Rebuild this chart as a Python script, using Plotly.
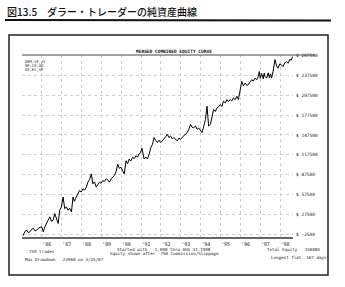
import plotly.graph_objects as go

# ---- data ----
years = [1985.05, 1985.15, 1985.24, 1985.32, 1985.40, 1985.48, 1985.57, 1985.66, 1985.74, 1985.86,
         1985.99, 1986.07, 1986.16, 1986.24, 1986.32, 1986.40, 1986.49, 1986.57, 1986.65, 1986.74,
         1986.82, 1986.90, 1986.98, 1987.07, 1987.15, 1987.24, 1987.32, 1987.40, 1987.49, 1987.57,
         1987.64, 1987.70, 1987.76, 1987.82, 1987.90, 1987.98, 1988.07, 1988.15, 1988.24, 1988.32,
         1988.40, 1988.49, 1988.57, 1988.65, 1988.74, 1988.82, 1988.90, 1988.98, 1989.07, 1989.15,
         1989.24, 1989.32, 1989.40, 1989.52, 1989.65, 1989.74, 1989.82, 1989.90, 1989.99, 1990.07,
         1990.15, 1990.24, 1990.32, 1990.40, 1990.48, 1990.57, 1990.65, 1990.74, 1990.82, 1990.90,
         1990.97, 1991.04, 1991.10, 1991.15, 1991.24, 1991.32, 1991.40, 1991.49, 1991.57, 1991.65,
         1991.74, 1991.82, 1991.90, 1991.99, 1992.07, 1992.15, 1992.24, 1992.32, 1992.40, 1992.49,
         1992.57, 1992.65, 1992.74, 1992.82, 1992.90, 1992.99, 1993.07, 1993.15, 1993.24, 1993.32,
         1993.40, 1993.49, 1993.57, 1993.65, 1993.74, 1993.82, 1993.90, 1993.99, 1994.07, 1994.15,
         1994.24, 1994.32, 1994.40, 1994.49, 1994.57, 1994.65, 1994.74, 1994.82, 1994.90, 1994.99,
         1995.07, 1995.15, 1995.24, 1995.32, 1995.40, 1995.49, 1995.57, 1995.65, 1995.74, 1995.82,
         1995.90, 1995.99, 1996.07, 1996.15, 1996.24, 1996.32, 1996.40, 1996.49, 1996.57, 1996.65,
         1996.74, 1996.82, 1996.90, 1996.95, 1997.00, 1997.07, 1997.15, 1997.20, 1997.24, 1997.32,
         1997.40, 1997.46, 1997.52, 1997.57, 1997.65, 1997.74, 1997.82, 1997.90, 1997.98, 1998.07,
         1998.15, 1998.24, 1998.32, 1998.40, 1998.49, 1998.56, 1998.63]
equity = [-5000, 1500, 3500, -500, 1000, 4500, 6000, 2000, 3500, 7000,
          8500, 1000, 9000, 13500, 19000, 23500, 17000, 18500, 28500, 22000,
          13500, 33500, 38000, 53500, 36000, 38500, 33500, 36500, 31000, 53500,
          47000, 51500, 55000, 58500, 63500, 61000, 66000, 64000, 68500, 76000,
          80000, 88500, 73500, 76500, 68500, 72000, 76000, 74500, 78500, 77000,
          81000, 79500, 76000, 82000, 86000, 92000, 103500, 97000, 98500, 93000,
          88500, 108500, 104000, 111000, 108000, 113500, 111500, 116000, 114000, 118500,
          121000, 127500, 118000, 111000, 114000, 111000, 118000, 128500, 133000, 143500,
          139000, 136000, 139500, 136000, 138500, 141000, 145000, 148500, 143500, 146000,
          141500, 143500, 140000, 138500, 142500, 141000, 144000, 146000, 149000, 151000,
          156000, 163500, 159000, 158500, 161000, 156000, 158000, 153500, 151000, 160000,
          171000, 191000, 161000, 163500, 178000, 186000, 183000, 188500, 190000, 193500,
          190500, 198500, 196000, 201000, 198000, 201000, 199000, 203500, 201000, 206000,
          201000, 218500, 228500, 222000, 226000, 222500, 223500, 228000, 231000, 229000,
          233500, 231000, 236000, 243500, 233000, 240500, 232500, 241000, 236000, 233500,
          241500, 234000, 240000, 233500, 244000, 261500, 252000, 248500, 255000, 253500,
          251000, 257000, 258500, 256000, 262000, 260500, 266000]

year_ticks = list(range(1986, 1999))
year_labels = ["'" + str(y)[2:] for y in year_ticks]
equity_ticks = [-2500, 27500, 57500, 87500, 117500, 147500, 177500, 207500, 237500, 267500]
equity_labels = ["$ " + str(v) for v in equity_ticks]
markets = ["DEM,SF,JY", "BP,CD,AD", "DX,EC,SF"]

# ---- layout geometry ----
W, H = 345, 287
L, R, T, B = 22, 52, 55, 50
PW, PH = W - L - R, H - T - B


def px(x):
    return (x - L) / PW


def py(y):
    return (H - B - y) / PH


MONO = "DejaVu Sans Mono"

fig = go.Figure()
fig.add_trace(go.Scatter(x=years, y=equity, mode="lines",
                         line=dict(color="black", width=1), showlegend=False,
                         hoverinfo="skip"))

fig.update_layout(
    width=W, height=H,
    margin=dict(l=L, r=R, t=T, b=B),
    paper_bgcolor="white", plot_bgcolor="white",
    xaxis=dict(range=[1985, 1998.65], tickvals=year_ticks, ticktext=year_labels,
               showgrid=True, gridcolor="#cfcfcf", gridwidth=0.6, griddash="dot",
               showline=True, linecolor="#666666", linewidth=2, ticks="",
               tickfont=dict(family=MONO, size=5, color="#222"),
               ticklabelshift=5, ticklabelstandoff=1, zeroline=False),
    yaxis=dict(range=[-7000, 268500], side="right", tickvals=equity_ticks,
               ticktext=equity_labels, showgrid=True, gridcolor="#cfcfcf",
               gridwidth=0.6, griddash="dot", showline=False, ticks="",
               tickfont=dict(family=MONO, size=4.5, color="#222"),
               ticklabelstandoff=2, zeroline=False),
)

shapes = []
# title rule
shapes.append(dict(type="line", xref="paper", yref="paper", x0=px(5), x1=px(331),
                   y0=py(20), y1=py(20.5), line=dict(color="#111", width=2.2)))
# outer box
shapes.append(dict(type="rect", xref="paper", yref="paper", x0=px(9), x1=px(328),
                   y0=py(275), y1=py(35), line=dict(color="#222", width=1.5)))
# chart top line
shapes.append(dict(type="line", xref="paper", yref="paper", x0=px(22), x1=px(315),
                   y0=py(55), y1=py(55), line=dict(color="#444", width=1.2)))
fig.update_layout(shapes=shapes)

ann = []
ann.append(dict(text="図13.5　ダラー・トレーダーの純資産曲線", x=px(5), y=py(12),
                xref="paper", yref="paper", xanchor="left", yanchor="middle",
                showarrow=False, font=dict(family="Noto Sans CJK JP", size=10, color="#111",
                                           weight=500)))
ann.append(dict(text="<b>MERGED COMBINED EQUITY CURVE</b>", x=px(174), y=py(51),
                xref="paper", yref="paper", xanchor="center", yanchor="middle",
                showarrow=False, font=dict(family=MONO, size=4.5, color="#111")))
for i, m in enumerate(markets):
    ann.append(dict(text=m, x=px(23), y=py(62 + i * 3.6), xref="paper", yref="paper",
                    xanchor="left", yanchor="middle", showarrow=False,
                    font=dict(family=MONO, size=3.8, color="#222")))


def note(text, x, y, anchor="left"):
    ann.append(dict(text=text, x=px(x), y=py(y), xref="paper", yref="paper",
                    xanchor=anchor, yanchor="middle", showarrow=False,
                    font=dict(family=MONO, size=4.2, color="#222")))


note("759 trades", 27, 251)
note("Max Drawdown   23960 on 3/25/87", 23, 259)
note("Started with   1,000 thru AUG 31,1998", 164, 249, "center")
note("Equity shown after  750 Commission/Slippage", 164, 253.5, "center")
note("Total Equity   250085", 265, 249)
note("Longest flat  167 days", 269, 257)
fig.update_layout(annotations=ann)

fig.write_html("out.html")
